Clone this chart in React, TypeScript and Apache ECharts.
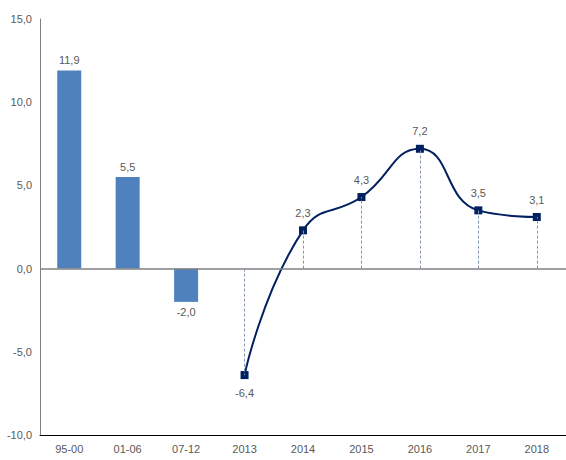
import React, { useEffect, useRef } from "react";
import * as echarts from "echarts";

const categories = ["95-00", "01-06", "07-12", "2013", "2014", "2015", "2016", "2017", "2018"];
const barValues = [11.9, 5.5, -2.0];
const lineYears = ["2013", "2014", "2015", "2016", "2017", "2018"];
const lineValues = [-6.4, 2.3, 4.3, 7.2, 3.5, 3.1];

const fmt = (v: number) => v.toFixed(1).replace(".", ",");
const FONT = "'Liberation Sans Narrow', 'Liberation Sans', sans-serif";

export default function App() {
  const ref = useRef<HTMLDivElement>(null);
  useEffect(() => {
    if (!ref.current) return;
    const chart = echarts.init(ref.current, null, { renderer: "svg" });
    const barData = categories.map((c, i) => (i < barValues.length ? barValues[i] : null));
    const lineData = categories.map((c) => {
      const k = lineYears.indexOf(c);
      return k >= 0 ? lineValues[k] : null;
    });
    const dropLines = lineYears.map((c, k) => [
      { coord: [c, 0] },
      { coord: [c, lineValues[k]] },
    ]);
    chart.setOption({
      animation: false,
      textStyle: { fontFamily: FONT },
      grid: { left: 40, right: 0, top: 19, bottom: 25 },
      xAxis: {
        type: "category",
        data: categories,
        axisLine: { onZero: false, lineStyle: { color: "#000", width: 1 } },
        axisTick: { show: false },
        axisLabel: { color: "#595959", fontSize: 11, fontFamily: FONT, margin: 8 },
      },
      yAxis: {
        type: "value",
        min: -10,
        max: 15,
        interval: 5,
        splitLine: { show: false },
        axisLine: { show: true, lineStyle: { color: "#808080", width: 1 } },
        axisTick: { show: false },
        axisLabel: { color: "#595959", fontSize: 11, fontFamily: FONT, formatter: (v: number) => fmt(v), margin: 8 },
      },
      series: [
        {
          type: "bar",
          data: barData,
          barWidth: 24,
          itemStyle: { color: "#4F81BD" },
          label: {
            show: true,
            position: "top",
            color: "#595959",
            fontSize: 11,
            fontFamily: FONT,
            formatter: (p: any) => fmt(p.value),
            distance: 5,
          },
          markLine: {
            silent: true,
            symbol: "none",
            label: { show: false },
            lineStyle: { color: "#808080", width: 1.5, type: "solid" },
            data: [{ yAxis: 0 }],
          },
        },
        {
          type: "line",
          data: lineData,
          smooth: 0.5,
          symbol: "rect",
          symbolSize: 8,
          lineStyle: { color: "#002060", width: 2 },
          itemStyle: { color: "#002060" },
          label: {
            show: true,
            position: "top",
            color: "#595959",
            fontSize: 11,
            fontFamily: FONT,
            distance: 8,
            formatter: (p: any) => fmt(p.value),
          },
          labelLayout: undefined,
          markLine: {
            silent: true,
            symbol: "none",
            label: { show: false },
            lineStyle: { color: "#8496B0", width: 1, type: [3, 2] },
            data: dropLines,
          },
          z: 3,
        },
      ],
    });
    // place negative line labels below
    chart.setOption({
      series: [
        {},
        {
          data: lineData.map((v) =>
            v !== null && v < 0 ? { value: v, label: { position: "bottom" } } : v
          ),
        },
      ],
    });
    chart.setOption({
      series: [
        {
          data: barData.map((v) =>
            v !== null && v < 0 ? { value: v, label: { position: "bottom" } } : v
          ),
        },
        {},
      ],
    });
    return () => chart.dispose();
  }, []);
  return (
    <div
      ref={ref}
      style={{ position: "absolute", left: 0, top: 0, width: 566, height: 460 }}
    />
  );
}
